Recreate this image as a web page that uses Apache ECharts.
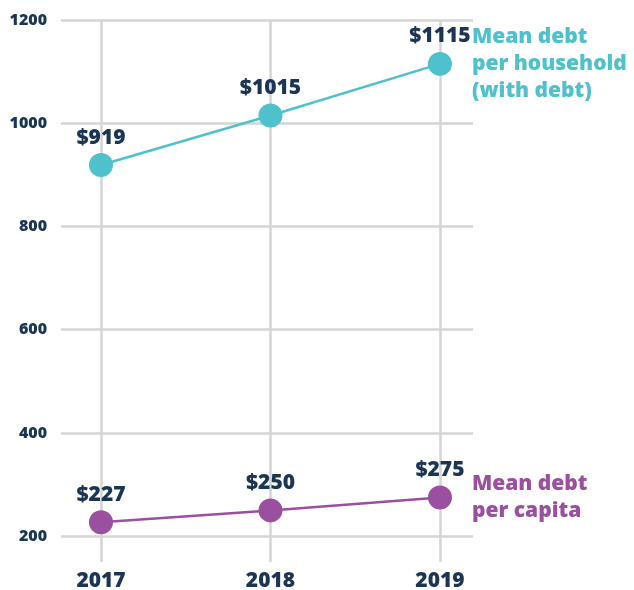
<!DOCTYPE html>
<html>
<head>
<meta charset="utf-8">
<script src="https://cdn.jsdelivr.net/npm/echarts@6/dist/echarts.min.js"></script>
<style>
  html, body { margin: 0; padding: 0; background: #ffffff; }
  #chart { width: 634px; height: 590px; }
</style>
</head>
<body>
<div id="chart"></div>
<script>
// Survey years
const years = [2017, 2018, 2019];
// Mean debt per household (households with debt), dollars
const householdDebt = [919, 1015, 1115];
// Mean debt per capita, dollars
const capitaDebt = [227, 250, 275];
// Y-axis tick labels
const yTicks = [200, 400, 600, 800, 1000, 1200];

const householdName = 'Mean debt\nper household\n(with debt)';
const capitaName = 'Mean debt\nper capita';

const NAVY = '#1b3654';
const TEAL = '#4fc1cd';
const PURPLE = '#9a4f9f';
const GRID = '#d5d5d5';
const FONT = '"Open Sans", "DejaVu Sans", sans-serif';

const pairs = (xs, ys) => xs.map((x, i) => [x, ys[i]]);

const clear = 'rgba(0,0,0,0)';

function lineSeries(name, values, color) {
  return {
    name: name,
    type: 'line',
    data: pairs(years, values),
    symbol: 'circle',
    symbolSize: 24,
    lineStyle: { color: color, width: 2.5 },
    itemStyle: { color: color },
    label: {
      show: true,
      position: 'top',
      distance: 5,
      formatter: p => '$' + p.value[1],
      color: NAVY,
      fontFamily: FONT,
      fontWeight: 800,
      fontSize: 21
    },
    endLabel: {
      show: true,
      formatter: p => p.seriesName,
      color: color,
      fontFamily: FONT,
      fontWeight: 800,
      fontSize: 21,
      lineHeight: 27,
      distance: 32,
      align: 'left'
    },
    emphasis: { disabled: true },
    animation: false
  };
}

const chart = echarts.init(document.getElementById('chart'), null, { renderer: 'canvas' });
chart.setOption({
  backgroundColor: '#ffffff',
  animation: false,
  grid: {
    left: 61, right: 161, top: 20, bottom: 28,
    containLabel: false,
    outerBoundsMode: 'none'
  },
  xAxis: {
    type: 'value',
    min: 2016.764,
    max: 2019.195,
    axisLine: { show: false },
    axisTick: { show: false, customValues: years },
    axisLabel: {
      customValues: years,
      formatter: v => String(v),
      color: NAVY,
      fontFamily: FONT,
      fontWeight: 800,
      fontSize: 21,
      margin: 9
    },
    splitLine: { show: true, lineStyle: { color: GRID, width: 2.5 } }
  },
  yAxis: {
    type: 'value',
    min: 150,
    max: 1200,
    interval: 50,
    axisLine: { show: false },
    axisTick: { show: false },
    axisLabel: {
      formatter: v => (yTicks.indexOf(v) >= 0 ? String(v) : ''),
      color: NAVY,
      fontFamily: FONT,
      fontWeight: 800,
      fontSize: 16,
      margin: 14
    },
    splitLine: {
      show: true,
      lineStyle: { color: [clear, GRID, clear, clear], width: 2.5 }
    }
  },
  series: [
    lineSeries(householdName, householdDebt, TEAL),
    lineSeries(capitaName, capitaDebt, PURPLE)
  ]
});
</script>
</body>
</html>
